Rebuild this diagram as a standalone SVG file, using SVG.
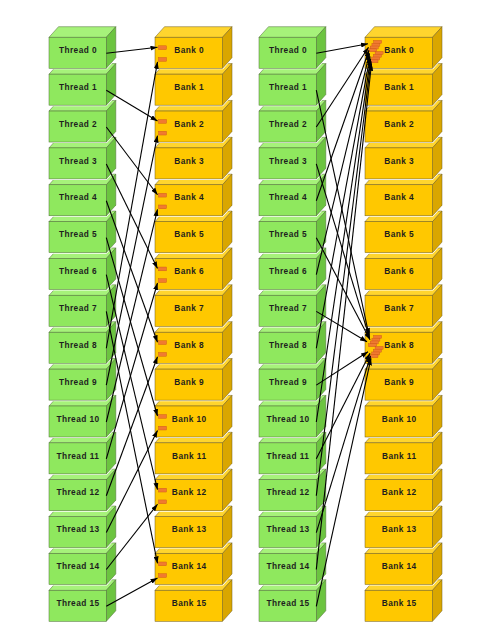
<svg xmlns="http://www.w3.org/2000/svg" width="499" height="642" viewBox="0 0 499 642">
<style>
.halo{fill:none;stroke:#fff;stroke-width:2;stroke-linejoin:round}
.tf{fill:#8fe85e;stroke:#4c6b35;stroke-width:.5}
.tt{fill:#a6f27a;stroke:#4c6b35;stroke-width:.5}
.ts{fill:#6cc440;stroke:#4c6b35;stroke-width:.5}
.bf{fill:#ffc800;stroke:#6b5a20;stroke-width:.5}
.bt{fill:#ffd52e;stroke:#6b5a20;stroke-width:.5}
.bs{fill:#d9a600;stroke:#6b5a20;stroke-width:.5}
.lbl{font-family:"Liberation Sans",Arial,sans-serif;font-weight:bold;font-size:8.3px;letter-spacing:.45px;fill:#1e1e1e;text-anchor:middle}
.mk{fill:#f07a30;stroke:#c85418;stroke-width:.4}
.conn path{fill:none;stroke:#000;stroke-width:1.1;marker-end:url(#ah)}
</style>
<defs>
<marker id="ah" markerUnits="userSpaceOnUse" markerWidth="7" markerHeight="5" refX="7" refY="2.5" orient="auto" viewBox="0 0 7 5">
<path d="M0,0 L7,2.5 L0,5 z" fill="#000"/>
</marker>
<g id="tbox">
<polygon class="halo" points="0,0 9.5,-10.6 66.8,-10.6 66.8,20.4 57.3,31 0,31"/>
<polygon class="tt" points="0,0 9.5,-10.6 66.8,-10.6 57.3,0"/>
<polygon class="ts" points="57.3,0 66.8,-10.6 66.8,20.4 57.3,31"/>
<rect class="tf" x="0" y="0" width="57.3" height="31"/>
</g>
<g id="bbox">
<polygon class="halo" points="0,0 9.5,-10.6 77,-10.6 77,20.4 67.5,31 0,31"/>
<polygon class="bt" points="0,0 9.5,-10.6 77,-10.6 67.5,0"/>
<polygon class="bs" points="67.5,0 77,-10.6 77,20.4 67.5,31"/>
<rect class="bf" x="0" y="0" width="67.5" height="31"/>
</g>
<g id="mk2">
<rect class="mk" x="3.5" y="8.5" width="8" height="3.8"/>
<rect class="mk" x="3.5" y="20.2" width="8" height="3.8"/>
</g>
<g id="mk8">
<rect class="mk" x="8.6" y="3.1" width="8" height="3"/>
<rect class="mk" x="6.9" y="5.9" width="8" height="3"/>
<rect class="mk" x="5.2" y="8.7" width="8" height="3"/>
<rect class="mk" x="3.5" y="11.5" width="8" height="3"/>
<rect class="mk" x="10.1" y="14.1" width="8" height="3"/>
<rect class="mk" x="8.4" y="16.9" width="8" height="3"/>
<rect class="mk" x="6.7" y="19.7" width="8" height="3"/>
<rect class="mk" x="5" y="22.5" width="8" height="3"/>
</g>
</defs>

<!-- Left: threads -->
<g id="L-thread-15"><use href="#tbox" x="49" y="590.35"/><text class="lbl" x="78" y="606.05">Thread 15</text></g>
<g id="L-thread-14"><use href="#tbox" x="49" y="553.48"/><text class="lbl" x="78" y="569.18">Thread 14</text></g>
<g id="L-thread-13"><use href="#tbox" x="49" y="516.61"/><text class="lbl" x="78" y="532.31">Thread 13</text></g>
<g id="L-thread-12"><use href="#tbox" x="49" y="479.74"/><text class="lbl" x="78" y="495.44">Thread 12</text></g>
<g id="L-thread-11"><use href="#tbox" x="49" y="442.87"/><text class="lbl" x="78" y="458.57">Thread 11</text></g>
<g id="L-thread-10"><use href="#tbox" x="49" y="406"/><text class="lbl" x="78" y="421.7">Thread 10</text></g>
<g id="L-thread-9"><use href="#tbox" x="49" y="369.13"/><text class="lbl" x="78" y="384.83">Thread 9</text></g>
<g id="L-thread-8"><use href="#tbox" x="49" y="332.26"/><text class="lbl" x="78" y="347.96">Thread 8</text></g>
<g id="L-thread-7"><use href="#tbox" x="49" y="295.39"/><text class="lbl" x="78" y="311.09">Thread 7</text></g>
<g id="L-thread-6"><use href="#tbox" x="49" y="258.52"/><text class="lbl" x="78" y="274.22">Thread 6</text></g>
<g id="L-thread-5"><use href="#tbox" x="49" y="221.65"/><text class="lbl" x="78" y="237.35">Thread 5</text></g>
<g id="L-thread-4"><use href="#tbox" x="49" y="184.78"/><text class="lbl" x="78" y="200.48">Thread 4</text></g>
<g id="L-thread-3"><use href="#tbox" x="49" y="147.91"/><text class="lbl" x="78" y="163.61">Thread 3</text></g>
<g id="L-thread-2"><use href="#tbox" x="49" y="111.04"/><text class="lbl" x="78" y="126.74">Thread 2</text></g>
<g id="L-thread-1"><use href="#tbox" x="49" y="74.17"/><text class="lbl" x="78" y="89.87">Thread 1</text></g>
<g id="L-thread-0"><use href="#tbox" x="49" y="37.3"/><text class="lbl" x="78" y="53">Thread 0</text></g>

<!-- Left: banks -->
<g id="L-bank-15"><use href="#bbox" x="155" y="590.35"/><text class="lbl" x="189.2" y="606.05">Bank 15</text></g>
<g id="L-bank-14"><use href="#bbox" x="155" y="553.48"/><text class="lbl" x="189.2" y="569.18">Bank 14</text><use href="#mk2" x="155" y="553.48"/></g>
<g id="L-bank-13"><use href="#bbox" x="155" y="516.61"/><text class="lbl" x="189.2" y="532.31">Bank 13</text></g>
<g id="L-bank-12"><use href="#bbox" x="155" y="479.74"/><text class="lbl" x="189.2" y="495.44">Bank 12</text><use href="#mk2" x="155" y="479.74"/></g>
<g id="L-bank-11"><use href="#bbox" x="155" y="442.87"/><text class="lbl" x="189.2" y="458.57">Bank 11</text></g>
<g id="L-bank-10"><use href="#bbox" x="155" y="406"/><text class="lbl" x="189.2" y="421.7">Bank 10</text><use href="#mk2" x="155" y="406"/></g>
<g id="L-bank-9"><use href="#bbox" x="155" y="369.13"/><text class="lbl" x="189.2" y="384.83">Bank 9</text></g>
<g id="L-bank-8"><use href="#bbox" x="155" y="332.26"/><text class="lbl" x="189.2" y="347.96">Bank 8</text><use href="#mk2" x="155" y="332.26"/></g>
<g id="L-bank-7"><use href="#bbox" x="155" y="295.39"/><text class="lbl" x="189.2" y="311.09">Bank 7</text></g>
<g id="L-bank-6"><use href="#bbox" x="155" y="258.52"/><text class="lbl" x="189.2" y="274.22">Bank 6</text><use href="#mk2" x="155" y="258.52"/></g>
<g id="L-bank-5"><use href="#bbox" x="155" y="221.65"/><text class="lbl" x="189.2" y="237.35">Bank 5</text></g>
<g id="L-bank-4"><use href="#bbox" x="155" y="184.78"/><text class="lbl" x="189.2" y="200.48">Bank 4</text><use href="#mk2" x="155" y="184.78"/></g>
<g id="L-bank-3"><use href="#bbox" x="155" y="147.91"/><text class="lbl" x="189.2" y="163.61">Bank 3</text></g>
<g id="L-bank-2"><use href="#bbox" x="155" y="111.04"/><text class="lbl" x="189.2" y="126.74">Bank 2</text><use href="#mk2" x="155" y="111.04"/></g>
<g id="L-bank-1"><use href="#bbox" x="155" y="74.17"/><text class="lbl" x="189.2" y="89.87">Bank 1</text></g>
<g id="L-bank-0"><use href="#bbox" x="155" y="37.3"/><text class="lbl" x="189.2" y="53">Bank 0</text><use href="#mk2" x="155" y="37.3"/></g>

<!-- Right: threads -->
<g id="R-thread-15"><use href="#tbox" x="259" y="590.35"/><text class="lbl" x="288" y="606.05">Thread 15</text></g>
<g id="R-thread-14"><use href="#tbox" x="259" y="553.48"/><text class="lbl" x="288" y="569.18">Thread 14</text></g>
<g id="R-thread-13"><use href="#tbox" x="259" y="516.61"/><text class="lbl" x="288" y="532.31">Thread 13</text></g>
<g id="R-thread-12"><use href="#tbox" x="259" y="479.74"/><text class="lbl" x="288" y="495.44">Thread 12</text></g>
<g id="R-thread-11"><use href="#tbox" x="259" y="442.87"/><text class="lbl" x="288" y="458.57">Thread 11</text></g>
<g id="R-thread-10"><use href="#tbox" x="259" y="406"/><text class="lbl" x="288" y="421.7">Thread 10</text></g>
<g id="R-thread-9"><use href="#tbox" x="259" y="369.13"/><text class="lbl" x="288" y="384.83">Thread 9</text></g>
<g id="R-thread-8"><use href="#tbox" x="259" y="332.26"/><text class="lbl" x="288" y="347.96">Thread 8</text></g>
<g id="R-thread-7"><use href="#tbox" x="259" y="295.39"/><text class="lbl" x="288" y="311.09">Thread 7</text></g>
<g id="R-thread-6"><use href="#tbox" x="259" y="258.52"/><text class="lbl" x="288" y="274.22">Thread 6</text></g>
<g id="R-thread-5"><use href="#tbox" x="259" y="221.65"/><text class="lbl" x="288" y="237.35">Thread 5</text></g>
<g id="R-thread-4"><use href="#tbox" x="259" y="184.78"/><text class="lbl" x="288" y="200.48">Thread 4</text></g>
<g id="R-thread-3"><use href="#tbox" x="259" y="147.91"/><text class="lbl" x="288" y="163.61">Thread 3</text></g>
<g id="R-thread-2"><use href="#tbox" x="259" y="111.04"/><text class="lbl" x="288" y="126.74">Thread 2</text></g>
<g id="R-thread-1"><use href="#tbox" x="259" y="74.17"/><text class="lbl" x="288" y="89.87">Thread 1</text></g>
<g id="R-thread-0"><use href="#tbox" x="259" y="37.3"/><text class="lbl" x="288" y="53">Thread 0</text></g>

<!-- Right: banks -->
<g id="R-bank-15"><use href="#bbox" x="365" y="590.35"/><text class="lbl" x="399.2" y="606.05">Bank 15</text></g>
<g id="R-bank-14"><use href="#bbox" x="365" y="553.48"/><text class="lbl" x="399.2" y="569.18">Bank 14</text></g>
<g id="R-bank-13"><use href="#bbox" x="365" y="516.61"/><text class="lbl" x="399.2" y="532.31">Bank 13</text></g>
<g id="R-bank-12"><use href="#bbox" x="365" y="479.74"/><text class="lbl" x="399.2" y="495.44">Bank 12</text></g>
<g id="R-bank-11"><use href="#bbox" x="365" y="442.87"/><text class="lbl" x="399.2" y="458.57">Bank 11</text></g>
<g id="R-bank-10"><use href="#bbox" x="365" y="406"/><text class="lbl" x="399.2" y="421.7">Bank 10</text></g>
<g id="R-bank-9"><use href="#bbox" x="365" y="369.13"/><text class="lbl" x="399.2" y="384.83">Bank 9</text></g>
<g id="R-bank-8"><use href="#bbox" x="365" y="332.26"/><text class="lbl" x="399.2" y="347.96">Bank 8</text><use href="#mk8" x="365" y="332.26"/></g>
<g id="R-bank-7"><use href="#bbox" x="365" y="295.39"/><text class="lbl" x="399.2" y="311.09">Bank 7</text></g>
<g id="R-bank-6"><use href="#bbox" x="365" y="258.52"/><text class="lbl" x="399.2" y="274.22">Bank 6</text></g>
<g id="R-bank-5"><use href="#bbox" x="365" y="221.65"/><text class="lbl" x="399.2" y="237.35">Bank 5</text></g>
<g id="R-bank-4"><use href="#bbox" x="365" y="184.78"/><text class="lbl" x="399.2" y="200.48">Bank 4</text></g>
<g id="R-bank-3"><use href="#bbox" x="365" y="147.91"/><text class="lbl" x="399.2" y="163.61">Bank 3</text></g>
<g id="R-bank-2"><use href="#bbox" x="365" y="111.04"/><text class="lbl" x="399.2" y="126.74">Bank 2</text></g>
<g id="R-bank-1"><use href="#bbox" x="365" y="74.17"/><text class="lbl" x="399.2" y="89.87">Bank 1</text></g>
<g id="R-bank-0"><use href="#bbox" x="365" y="37.3"/><text class="lbl" x="399.2" y="53">Bank 0</text><use href="#mk8" x="365" y="37.3"/></g>

<g id="connectors" class="conn">
<!-- left: stride 2 -->
<path d="M106.3,53.3 L157.5,47.3"/>
<path d="M106.3,90.17 L157.5,121.04"/>
<path d="M106.3,127.04 L157.5,194.78"/>
<path d="M106.3,163.91 L157.5,268.52"/>
<path d="M106.3,200.78 L157.5,342.26"/>
<path d="M106.3,237.65 L157.5,416"/>
<path d="M106.3,274.52 L157.5,489.74"/>
<path d="M106.3,311.39 L157.5,563.48"/>
<path d="M106.3,348.26 L157.5,61.8"/>
<path d="M106.3,385.13 L157.5,135.54"/>
<path d="M106.3,422 L157.5,209.28"/>
<path d="M106.3,458.87 L157.5,283.02"/>
<path d="M106.3,495.74 L157.5,356.76"/>
<path d="M106.3,532.61 L157.5,430.5"/>
<path d="M106.3,569.48 L157.5,504.24"/>
<path d="M106.3,606.35 L157.5,577.98"/>
<!-- right: stride 8 -->
<path d="M316.3,53.3 L368,43.8"/>
<path d="M316.3,90.17 L369,335.3"/>
<path d="M316.3,127.04 L368.5,47.3"/>
<path d="M316.3,163.91 L369.5,337.8"/>
<path d="M316.3,200.78 L369,50.3"/>
<path d="M316.3,237.65 L370,339.8"/>
<path d="M316.3,274.52 L369.5,53.3"/>
<path d="M316.3,311.39 L367,341.8"/>
<path d="M316.3,348.26 L370,56.3"/>
<path d="M316.3,385.13 L368,351.8"/>
<path d="M316.3,422 L370.5,58.8"/>
<path d="M316.3,458.87 L370,353.3"/>
<path d="M316.3,495.74 L371,61.3"/>
<path d="M316.3,532.61 L370.5,355.8"/>
<path d="M316.3,569.48 L371.5,63.8"/>
<path d="M316.3,606.35 L371,358.3"/>
</g>
</svg>
